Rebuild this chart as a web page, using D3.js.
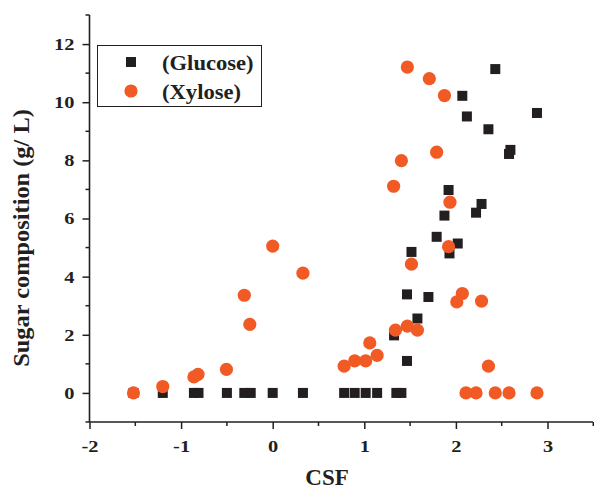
<!DOCTYPE html>
<html><head><meta charset="utf-8">
<script src="https://cdn.jsdelivr.net/npm/d3@7"></script>
<style>body{margin:0;background:#fff}svg{display:block}text{font-family:"Liberation Serif","Times New Roman",serif;font-weight:bold;fill:#231f20}</style>
</head><body><svg id="c" width="594" height="490"></svg>
<script>
const glucoseCSF = [-1.52,-1.2,-0.86,-0.81,-0.5,-0.31,-0.24,0,0.33,0.78,0.895,1.015,1.14,1.35,1.405,
  2.43,2.07,2.12,2.885,2.355,2.595,2.58,1.92,2.28,2.22,1.875,1.79,2.02,1.515,1.93,1.466,1.70,1.58,1.325,1.466];
const glucoseVal = [0,0,0,0,0,0,0,0,0,0,0,0,0,0,0,
  11.14,10.22,9.51,9.63,9.07,8.36,8.22,6.98,6.5,6.2,6.1,5.37,5.14,4.85,4.8,3.39,3.30,2.56,1.98,1.10];
const xyloseCSF = [1.47,1.71,1.875,1.79,1.405,1.32,1.935,1.92,0,0.33,-0.31,-0.25,-0.505,-0.815,-0.86,-1.2,-1.52,
  1.515,2.07,2.01,2.28,1.34,1.47,1.58,1.06,1.14,0.78,0.895,1.015,2.355,2.11,2.22,2.43,2.58,2.885];
const xyloseVal = [11.21,10.81,10.23,8.28,7.99,7.11,6.56,5.03,5.05,4.12,3.36,2.36,0.81,0.64,0.55,0.22,0,
  4.43,3.42,3.13,3.16,2.16,2.30,2.16,1.72,1.29,0.92,1.10,1.10,0.92,0,0,0,0,0];
const xTicks = [-2,-1,0,1,2,3];
const yTicks = [0,2,4,6,8,10,12];
const seriesNames = ["(Glucose)","(Xylose)"];
const xTitle = "CSF";
const yTitle = "Sugar composition (g/ L)";

const dark = "#231f20", orange = "#f15a24";
const svg = d3.select("#c");
const L = 89.5, R = 593, T = 15, B = 422;
const x = d3.scaleLinear().domain([-2, 3.5]).range([89.5, 593.3]);
const y = d3.scaleLinear().domain([-1, 13]).range([B, T]);

function stretch(sel, k) {
  sel.each(function() {
    const w = this.getComputedTextLength();
    d3.select(this).attr("textLength", w * k).attr("lengthAdjust", "spacingAndGlyphs");
  });
}

// axes
const xMinor = d3.range(-2, 3.51, 0.5).filter(v => !xTicks.includes(v));
const yMinor = d3.range(-1, 13.01, 1).filter(v => !yTicks.includes(v));
const gx = svg.append("g").attr("transform", `translate(0,${B})`);
gx.call(d3.axisBottom(x).tickValues(xTicks).tickSize(7).tickPadding(11).tickFormat(d => d < 0 ? "-" + Math.abs(d) : String(d)));
gx.append("g").selectAll("line").data(xMinor).join("line")
  .attr("x1", d => x(d)).attr("x2", d => x(d)).attr("y1", 0).attr("y2", 4).attr("stroke", dark).attr("stroke-width", 1.5);
const gy = svg.append("g").attr("transform", `translate(${L},0)`);
gy.call(d3.axisLeft(y).tickValues(yTicks).tickSize(7).tickPadding(8).tickFormat(d3.format("d")));
gy.append("g").selectAll("line").data(yMinor).join("line")
  .attr("y1", d => y(d)).attr("y2", d => y(d)).attr("x1", 0).attr("x2", -4).attr("stroke", dark).attr("stroke-width", 1.5);
[gx, gy].forEach(g => {
  g.select(".domain").attr("stroke", dark).attr("stroke-width", 1.6);
  g.selectAll(".tick line").attr("stroke", dark).attr("stroke-width", 1.5);
  g.selectAll(".tick text").attr("font-size", 17).attr("font-family", "Liberation Serif").attr("font-weight", "bold").attr("fill", dark);
  stretch(g.selectAll(".tick text"), 1.2);
});
gx.select(".domain").attr("d", `M${L},0H${R}`);
gy.select(".domain").attr("d", `M0,${T}V${B}`);

// points
const gData = glucoseCSF.map((c, i) => ({c, v: glucoseVal[i]}));
const xData = xyloseCSF.map((c, i) => ({c, v: xyloseVal[i]}));
const s = 10;
svg.append("g").selectAll("rect").data(gData).join("rect")
  .attr("x", d => x(d.c) - s/2).attr("y", d => y(d.v) - s/2).attr("width", s).attr("height", s).attr("fill", dark);
svg.append("g").selectAll("circle").data(xData).join("circle")
  .attr("cx", d => x(d.c)).attr("cy", d => y(d.v)).attr("r", 6.6).attr("fill", orange);

// legend
const lg = svg.append("g");
lg.append("rect").attr("x", 97.5).attr("y", 45.5).attr("width", 164).attr("height", 61).attr("fill", "none").attr("stroke", dark).attr("stroke-width", 1);
lg.append("rect").attr("x", 131 - s/2).attr("y", 62 - s/2).attr("width", s).attr("height", s).attr("fill", dark);
lg.append("circle").attr("cx", 131).attr("cy", 91).attr("r", 6.6).attr("fill", orange);
const lt = lg.selectAll("text.lab").data(seriesNames).join("text").attr("class", "lab")
  .attr("x", 162).attr("y", (d, i) => 70 + i * 29).attr("font-size", 20).text(d => d);
stretch(lt, 1.13);

// titles
svg.append("text").attr("x", 327).attr("y", 485).attr("text-anchor", "middle").attr("font-size", 23).text(xTitle);
const yt = svg.append("text").attr("transform", "translate(29,238) rotate(-90)").attr("text-anchor", "middle").attr("font-size", 23).text(yTitle);
stretch(yt, 1.06);
</script></body></html>
